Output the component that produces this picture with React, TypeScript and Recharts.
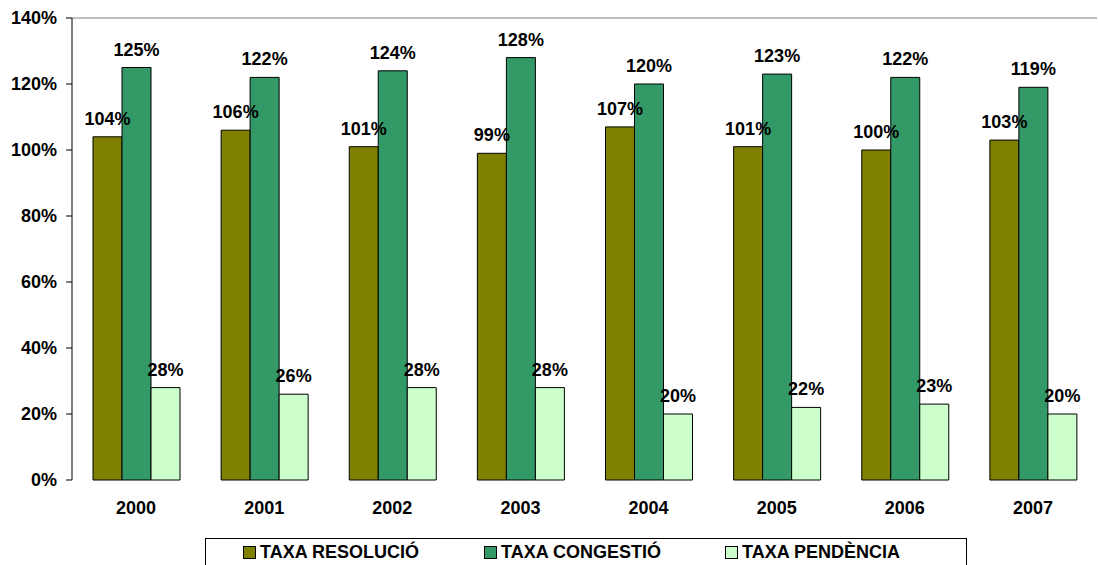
import { BarChart, Bar, XAxis, YAxis, LabelList, ReferenceLine } from "recharts";

const years = ["2000", "2001", "2002", "2003", "2004", "2005", "2006", "2007"];
const resolucio = [104, 106, 101, 99, 107, 101, 100, 103];
const congestio = [125, 122, 124, 128, 120, 123, 122, 119];
const pendencia = [28, 26, 28, 28, 20, 22, 23, 20];
const yTicks = [0, 20, 40, 60, 80, 100, 120, 140];
const boundaryTicks = [0, 1, 2, 3, 4, 5, 6, 7, 8];

const series = [
  { key: "resolucio", name: "TAXA RESOLUCIÓ", color: "#808000" },
  { key: "congestio", name: "TAXA CONGESTIÓ", color: "#339966" },
  { key: "pendencia", name: "TAXA PENDÈNCIA", color: "#CCFFCC" },
];

const data = years.map((year, i) => ({
  year,
  resolucio: resolucio[i],
  congestio: congestio[i],
  pendencia: pendencia[i],
}));

const font = "Arial, 'Liberation Sans', sans-serif";
const tickStyle = { fill: "#000", fontSize: 18, fontWeight: 700, fontFamily: font };

export default function App() {
  return (
    <div style={{ position: "relative", width: 1098, height: 565, overflow: "hidden", background: "#fff" }}>
      <style>{`body{margin:0}`}</style>
      <BarChart
        width={1098}
        height={565}
        data={data}
        margin={{ top: 18, right: 1, left: 0, bottom: 45 }}
        barCategoryGap={21}
        barGap={0}
      >
        <ReferenceLine y={140} yAxisId="y" xAxisId="cat" stroke="#808080" strokeWidth={1} />
        <XAxis
          xAxisId="ticks"
          type="number"
          domain={[0, 8]}
          ticks={boundaryTicks}
          tick={false}
          tickSize={7}
          height={0}
          axisLine={{ stroke: "#000" }}
          tickLine={{ stroke: "#000" }}
        />
        <XAxis
          xAxisId="cat"
          dataKey="year"
          axisLine={false}
          tickLine={false}
          tickMargin={15}
          tick={tickStyle}
          height={40}
        />
        <YAxis
          yAxisId="y"
          domain={[0, 140]}
          ticks={yTicks}
          width={72}
          tickSize={6}
          tickMargin={9}
          tickFormatter={(v: number) => `${v}%`}
          tick={tickStyle}
          axisLine={{ stroke: "#000" }}
          tickLine={{ stroke: "#000" }}
        />
        {series.map((s) => (
          <Bar
            key={s.key}
            dataKey={s.key}
            name={s.name}
            xAxisId="cat"
            yAxisId="y"
            fill={s.color}
            stroke="#000"
            strokeWidth={1}
            isAnimationActive={false}
          >
            <LabelList
              dataKey={s.key}
              position="top"
              offset={12}
              formatter={(v: number) => `${v}%`}
              style={{ fill: "#000", fontSize: 18, fontWeight: 700, fontFamily: font }}
            />
          </Bar>
        ))}
      </BarChart>
      <div
        style={{
          position: "absolute",
          left: 205,
          top: 538,
          width: 762,
          height: 40,
          border: "1px solid #000",
          boxSizing: "border-box",
          display: "flex",
          paddingLeft: 37,
          paddingTop: 3,
          fontFamily: font,
          fontWeight: 700,
          fontSize: 18,
        }}
      >
        {series.map((s) => (
          <div key={s.key} style={{ display: "flex", alignItems: "center", width: 253, height: 20 }}>
            <span
              style={{
                display: "inline-block",
                width: 11,
                height: 11,
                background: s.color,
                border: "1px solid #000",
                marginRight: 4,
              }}
            />
            <span>{s.name}</span>
          </div>
        ))}
      </div>
    </div>
  );
}
